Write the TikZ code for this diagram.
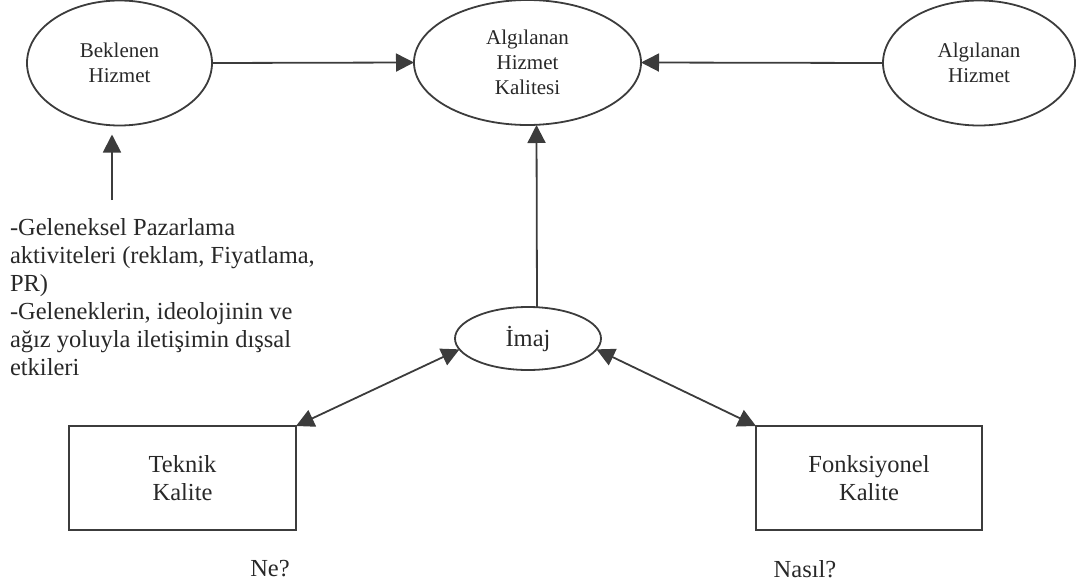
\documentclass[tikz,border=0pt]{standalone}
\usepackage{fontspec}
\setmainfont{Liberation Serif}
\usetikzlibrary{shapes.geometric,arrows.meta}
\definecolor{inkgray}{RGB}{60,60,60}
\definecolor{textgray}{RGB}{40,40,40}

\begin{document}
\begin{tikzpicture}[x=1pt,y=-1pt,
  every node/.style={inner sep=0pt, outer sep=0pt, text=textgray, align=center},
  oval/.style={draw=inkgray, line width=1.8pt, ellipse, font=\fontsize{21}{25}\selectfont},
  kutu/.style={draw=inkgray, line width=1.8pt, rectangle, font=\fontsize{24.5}{28}\selectfont},
  yazi/.style={font=\fontsize{24.5}{28}\selectfont},
  ok/.style={draw=inkgray, line width=1.8pt, -{Triangle[length=18pt,width=18pt]}},
  ciftok/.style={draw=inkgray, line width=1.8pt, {Triangle[length=18pt,width=18pt]}-{Triangle[length=18pt,width=18pt]}}]
\useasboundingbox (0,0) rectangle (1076,586);

\node[oval, minimum width=185pt, minimum height=125pt] (bek) at (119.5,63) {Beklenen\\Hizmet};
\node[oval, minimum width=227pt, minimum height=125pt] (kal) at (527.5,62.5) {Algılanan\\Hizmet\\Kalitesi};
\node[oval, minimum width=192pt, minimum height=125pt] (alg) at (979,63) {Algılanan\\Hizmet};
\node[oval, font=\fontsize{24.5}{28}\selectfont, minimum width=146pt, minimum height=63pt] (imaj) at (528,338.5) {İmaj};

\node[kutu, minimum width=227pt, minimum height=104pt] (tek) at (182.5,478) {Teknik\\Kalite};
\node[kutu, minimum width=226pt, minimum height=104pt] (fon) at (869,478) {Fonksiyonel\\Kalite};

\node[yazi] (ne) at (270,569) {Ne?};
\node[yazi] (nasil) at (805,569) {Nasıl?};

\node[yazi, align=left, anchor=north west] (etki) at (10,218) {-Geleneksel Pazarlama\\aktiviteleri (reklam, Fiyatlama,\\PR)\\-Geleneklerin, ideolojinin ve\\ağız yoluyla iletişimin dışsal\\etkileri};
\coordinate (kaynak) at (112,200);

\draw[ok] (bek.east) -- (kal.west);
\draw[ok] (alg.west) -- (kal.east);
\draw[ok] ([xshift=9pt]imaj.north) -- ([xshift=9pt]kal.south);
\draw[ok, shorten >=9pt] (kaynak) -- (kaynak |- bek.south);
\draw[ciftok] (imaj.189) -- (tek.north east);
\draw[ciftok] (imaj.351) -- (fon.north west);
\end{tikzpicture}
\end{document}
